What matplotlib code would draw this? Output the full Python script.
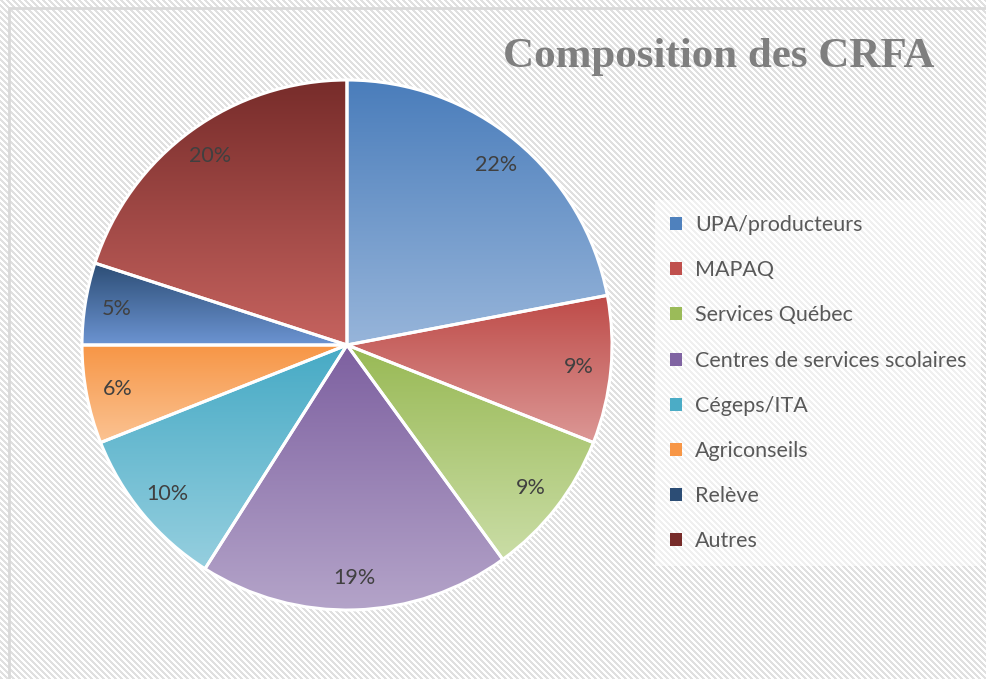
import numpy as np
import matplotlib
matplotlib.use("Agg")
import matplotlib.pyplot as plt
from matplotlib.colors import LinearSegmentedColormap
from matplotlib.patches import Patch

# ---- data ----
categories = ["UPA/producteurs", "MAPAQ", "Services Québec",
              "Centres de services scolaires", "Cégeps/ITA", "Agriconseils",
              "Relève", "Autres"]
values = [22, 9, 9, 19, 10, 6, 5, 20]
title = "Composition des CRFA"

top_colors = ["#4A7DBB", "#BE4B48", "#98B954", "#7D60A0", "#46AAC5", "#F79646", "#2C4D75", "#772C2A"]
bottom_colors = ["#97B5DA", "#DC9896", "#CADDA6", "#B4A4C9", "#96CFDF", "#FBC393", "#6C94D2", "#C6635F"]
mid_colors = ["#4F81BD", "#C0504D", "#9BBB59", "#8064A2", "#4BACC6", "#F79646", "#2C4D75", "#772C2A"]

W, H = 987, 679
fig = plt.figure(figsize=(W / 100, H / 100), dpi=100)

# ---- background: diagonal hatch ----
bg = fig.add_axes([0, 0, 1, 1])
yy, xx = np.mgrid[0:H, 0:W]
pattern = np.where(((xx - yy) % 6) < 3, 0.88, 1.0)
img = np.dstack([pattern, pattern, pattern])
bg.imshow(img, extent=(0, W, H, 0), interpolation="nearest", aspect="auto")
bg.set_xlim(0, W)
bg.set_ylim(H, 0)
bg.plot([9, 9, W + 5], [H + 5, 8, 8], color="#D9D9D9", lw=2, solid_capstyle="butt")
bg.axis("off")

# ---- pie ----
cx, cy, R = 347, 345, 265
half = 300
ax = fig.add_axes([(cx - half) / W, (H - cy - half) / H, 2 * half / W, 2 * half / H])

wedges, texts, autotexts = ax.pie(
    values, radius=R, startangle=90, counterclock=False,
    autopct="%1.0f%%", pctdistance=0.88,
    wedgeprops=dict(edgecolor="white", linewidth=2.2),
    textprops=dict(color="#404040", fontsize=15.5, family=["Lato", "DejaVu Sans"]),
)

grad = np.linspace(0, 1, 256).reshape(-1, 1)
for i, w in enumerate(wedges):
    t1, t2 = np.deg2rad(w.theta1), np.deg2rad(w.theta2)
    ts = np.linspace(t1, t2, 200)
    xs = np.concatenate([[0], R * np.cos(ts)])
    ys = np.concatenate([[0], R * np.sin(ts)])
    cmap = LinearSegmentedColormap.from_list(f"g{i}", [top_colors[i], bottom_colors[i]])
    im = ax.imshow(grad, cmap=cmap, extent=(xs.min(), xs.max(), ys.min(), ys.max()),
                   origin="upper", aspect="auto", zorder=w.get_zorder() - 0.1)
    im.set_clip_path(w)
    w.set_facecolor("none")
ax.set_xlim(-half, half)
ax.set_ylim(-half, half)
ax.set_aspect("equal")
ax.axis("off")
for t in autotexts:
    t.set_zorder(5)

# ---- title ----
fig.text(719 / W, 1 - 57 / H, title, ha="center", va="center",
         fontsize=31, fontweight="bold", color="#7F7F7F", family="Liberation Serif")

# ---- legend ----
handles = [Patch(facecolor=c, edgecolor="none") for c in mid_colors]
leg = fig.legend(handles, categories, loc="upper left",
                 bbox_to_anchor=(655 / W, 1 - 200 / H),
                 frameon=True, fancybox=False,
                 prop=dict(family="Lato", size=15.5),
                 handlelength=0.55, handleheight=0.55, handletextpad=0.6,
                 labelspacing=1.17, borderpad=0.7, borderaxespad=0)
leg.get_frame().set_facecolor("white")
leg.get_frame().set_alpha(0.55)
leg.get_frame().set_edgecolor("none")
for t in leg.get_texts():
    t.set_color("#595959")

fig.savefig("out.png", dpi=100)
